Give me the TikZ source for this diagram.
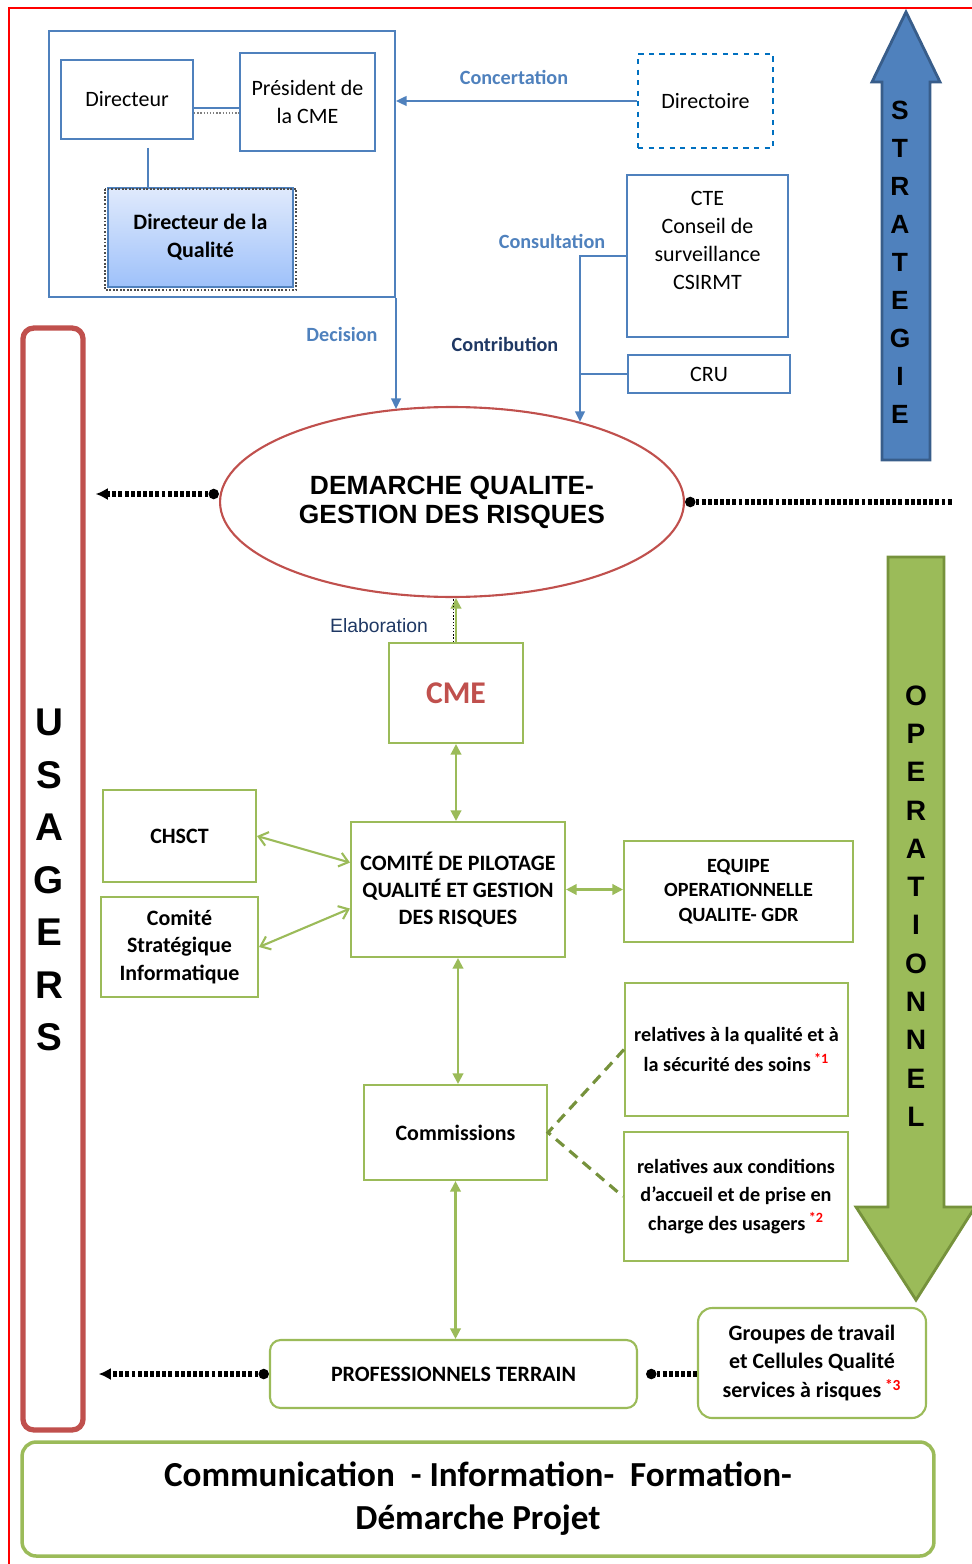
\documentclass[tikz,border=0pt]{standalone}
\usepackage{fontspec}
\setmainfont{Carlito}
\newfontfamily\arialfont{Liberation Sans}
\usepackage{xcolor}
\usepackage{tikz}
\usetikzlibrary{positioning,arrows.meta,shapes.geometric}
\definecolor{offblue}{RGB}{79,129,189}
\definecolor{darkblue}{RGB}{56,93,138}
\definecolor{dashblue}{RGB}{0,112,192}
\definecolor{offgreen}{RGB}{155,187,89}
\definecolor{darkgreen}{RGB}{118,146,60}
\definecolor{offred}{RGB}{192,80,77}
\definecolor{navy}{RGB}{31,56,100}
\definecolor{qualtop}{RGB}{224,234,252}
\definecolor{qualbot}{RGB}{158,193,250}

\tikzset{
  bluebox/.style={draw=offblue, line width=1.2pt, fill=white, align=center,
    inner sep=0pt, font=\fontsize{12.5}{16}\selectfont},
  greenbox/.style={draw=offgreen, line width=1.2pt, fill=white, align=center,
    inner sep=0pt, font=\bfseries\fontsize{12.5}{15.5}\selectfont},
  blueline/.style={draw=offblue, line width=1.2pt},
  bluearrow/.style={blueline, -{Triangle[length=6pt,width=5.5pt]}},
  greenarrow/.style={draw=offgreen, line width=1.2pt,
    {Triangle[length=6pt,width=6pt]}-{Triangle[length=6pt,width=6pt]}},
  barbarrow/.style={draw=offgreen, line width=1.2pt,
    {Straight Barb[length=5pt,width=8pt]}-{Straight Barb[length=5pt,width=8pt]}},
  dotline/.style={line width=3pt, dash pattern=on 2.2pt off 1.3pt},
  dotstart/.style={{Circle[length=6pt,width=6pt,line width=0pt]}-},
  dottip/.style={{Circle[length=6pt,width=6pt,line width=0pt]}-{Latex[length=7pt,width=7pt]}},
  linklabel/.style={font=\bfseries\fontsize{11.5}{13}\selectfont, text=offblue},
  bigletters/.style={font=\arialfont\bfseries\fontsize{#1}{#1}\selectfont, align=center, inner sep=0pt},
}

\begin{document}
\begin{tikzpicture}[x=0.02cm, y=-0.02cm]
  \useasboundingbox (0,0) rectangle (972,1564);
  % page frame
  \draw[red, line width=0.6pt] (9,1564) -- (9,8) -- (972,8);

  % --- direction (top left)
  \node[bluebox, minimum width=6.92cm, minimum height=5.32cm] (direction) at (222,164) {};
  \node[bluebox, minimum width=2.64cm, minimum height=1.58cm] (dir) at (127,99.5) {Directeur};
  \node[bluebox, minimum width=2.7cm, minimum height=1.96cm] (pres) at (307.5,102) {Président de\\la CME};
  \node[draw=offblue, line width=1.2pt, top color=qualtop, bottom color=qualbot,
        minimum width=3.7cm, minimum height=1.98cm, align=center, inner sep=0pt,
        font=\bfseries\fontsize{12.5}{16}\selectfont] (dq) at (200.5,237.5) {Directeur de la\\Qualité};
  \draw[black!70, densely dotted, line width=1pt]
    ([shift={(-2,2)}]dq.north west) rectangle ([shift={(2,2)}]dq.south east);
  \draw[blueline] (dir.east |- 0,108) -- (pres.west |- 0,108);
  \draw[gray, densely dotted, line width=0.8pt] (dir.east |- 0,113) -- (pres.west |- 0,113);
  \draw[blueline] (148,148) -- (dq.north -| 148,0);

  % --- instances (top right)
  \node[draw=dashblue, dashed, line width=1.4pt, minimum width=2.7cm, minimum height=1.88cm,
        font=\fontsize{12.5}{16}\selectfont] (directoire) at (705.5,101) {Directoire};
  \node[bluebox, minimum width=3.22cm, minimum height=3.24cm] (cte) at (707.5,256)
    {CTE\\Conseil de\\surveillance\\CSIRMT\\[2pt]\mbox{}};
  \node[bluebox, minimum width=3.24cm, minimum height=0.76cm] (cru) at (709,374) {CRU};

  % --- central ellipse
  \node[ellipse, draw=offred, line width=1.2pt, minimum width=9.28cm, minimum height=3.8cm,
        inner sep=0pt, align=center, font=\arialfont\bfseries\fontsize{15}{16.5}\selectfont]
        (ell) at (452,502) {DEMARCHE QUALITE-\\GESTION DES RISQUES};

  % blue links
  \draw[bluearrow] (directoire.west) -- (directoire.west -| direction.east);
  \node[linklabel] (concert) at (514,77) {Concertation};
  \draw[bluearrow] (direction.south east) -- (direction.south east |- ell.122);
  \node[linklabel] (decision) at (342,334) {Decision};
  \coordinate (cjoin) at (580,256);
  \draw[bluearrow] (cte.west) -- (cjoin) -- (cjoin |- ell.32);
  \draw[blueline] (cru.west) -- (cru.west -| cjoin);
  \node[linklabel] (consult) at (552,241) {Consultation};
  \node[linklabel, text=navy] (contrib) at (505,344) {Contribution};

  % --- strategy / operational arrows
  \draw[fill=offblue, draw=darkblue, line width=1.6pt]
    (882,460) -- (882,82) -- (872,82) -- (906,12) -- (940,82) -- (930,82) -- (930,460) -- cycle;
  \node[bigletters=15, font=\arialfont\bfseries\fontsize{15}{21.6}\selectfont] (strat) at (900,262)
    {S\\T\\R\\A\\T\\E\\G\\I\\E};
  \draw[fill=offgreen, draw=darkgreen, line width=1.6pt]
    (888,557) -- (944,557) -- (944,1207) -- (975,1207) -- (916,1300) -- (856,1207) -- (888,1207) -- cycle;
  \node[bigletters=16, font=\arialfont\bfseries\fontsize{16}{21.8}\selectfont] (oper) at (916,906)
    {O\\P\\E\\R\\A\\T\\I\\O\\N\\N\\E\\L};

  % --- usagers
  \node[draw=offred, line width=3pt, rounded corners=6pt, minimum width=1.2cm,
        minimum height=22.04cm] (usagers) at (53,879) {};
  \node[bigletters=22, font=\arialfont\bfseries\fontsize{22}{29.9}\selectfont] (usatext) at (49,880)
    {U\\S\\A\\G\\E\\R\\S};

  % dotted links to the sides
  \coordinate (rend) at (952,502);
  \draw[dotline, dottip, shorten >=0.2cm]
    (ell.west |- 0,494) -- (usagers.east |- 0,494);
  \draw[dotline, dotstart] (ell.east) -- (rend);

  % --- operational part
  \node[greenbox, minimum width=2.68cm, minimum height=2cm,
        font=\bfseries\fontsize{18}{20}\selectfont, text=offred] (cme) at (456,693) {CME};
  \draw[draw=offgreen, line width=1.2pt, -{Triangle[length=6pt,width=6pt]}] (cme.north) -- (cme.north |- ell.south);
  \draw[black, densely dotted, line width=0.8pt] ([xshift=-1.5pt]cme.north) -- ([xshift=-1.5pt]cme.north |- ell.south);
  \node[font=\arialfont\fontsize{11}{13}\selectfont, text=navy] (elab) at (379,626) {Elaboration};

  \node[greenbox, minimum width=4.28cm, minimum height=2.7cm] (pil) at (458,889.5)
    {COMITÉ DE PILOTAGE\\QUALITÉ ET GESTION\\DES RISQUES};
  \node[greenbox, minimum width=3.06cm, minimum height=1.84cm] (chsct) at (179.5,836) {CHSCT};
  \node[greenbox, minimum width=3.14cm, minimum height=2cm] (csi) at (179.5,947)
    {Comité\\Stratégique\\Informatique};
  \node[greenbox, minimum width=4.58cm, minimum height=2.02cm,
        font=\bfseries\fontsize{11.5}{14}\selectfont] (equipe) at (738.5,891.5)
    {EQUIPE\\OPERATIONNELLE\\QUALITE- GDR};
  \node[greenbox, minimum width=3.66cm, minimum height=1.9cm] (comm) at (455.5,1132.5) {Commissions};
  \node[greenbox, minimum width=4.46cm, minimum height=2.66cm,
        font=\bfseries\fontsize{11.5}{17}\selectfont] (rel1) at (736.5,1049.5)
    {relatives à la qualité et à\\la sécurité des soins\,\textcolor{red}{\textsuperscript{*1}}};
  \node[greenbox, minimum width=4.48cm, minimum height=2.58cm,
        font=\bfseries\fontsize{11.5}{16}\selectfont] (rel2) at (736,1196.5)
    {relatives aux conditions\\d’accueil et de prise en\\charge des usagers\,\textcolor{red}{\textsuperscript{*2}}};
  \node[greenbox, rounded corners=6pt, minimum width=7.34cm, minimum height=1.36cm] (pro) at (453.5,1374)
    {PROFESSIONNELS TERRAIN};
  \node[greenbox, rounded corners=8pt, minimum width=4.56cm, minimum height=2.2cm,
        font=\bfseries\fontsize{12.5}{16.5}\selectfont] (groupes) at (812,1363)
    {Groupes de travail\\et Cellules Qualité\\services à risques\,\textcolor{red}{\textsuperscript{*3}}};

  \draw[greenarrow] (cme.south) -- (cme.south |- pil.north);
  \draw[barbarrow] (chsct.east) -- (pil.166);
  \draw[barbarrow] (csi.east) -- (pil.190);
  \draw[greenarrow] (pil.east) -- (pil.east -| equipe.west);
  \draw[greenarrow] (pil.south) -- (pil.south |- comm.north);
  \draw[draw=darkgreen, line width=1.8pt, dash pattern=on 6pt off 4pt] (rel1.west) -- (comm.east) -- (rel2.west);
  \draw[greenarrow] (comm.south) -- (comm.south |- pro.north);

  \draw[dotline, dottip, shorten >=0.26cm]
    (pro.west) -- (pro.west -| usagers.east);
  \draw[dotline, dotstart, shorten <=0.16cm] (pro.east) -- (pro.east -| groupes.west);

  % --- bottom banner
  \node[draw=offgreen, line width=2pt, rounded corners=8pt, minimum width=18.24cm,
        minimum height=2.28cm, align=center, font=\bfseries\fontsize{20}{24.5}\selectfont]
        (banner) at (478,1499) {Communication~~- Information-~~Formation-\\Démarche Projet};
\end{tikzpicture}
\end{document}
